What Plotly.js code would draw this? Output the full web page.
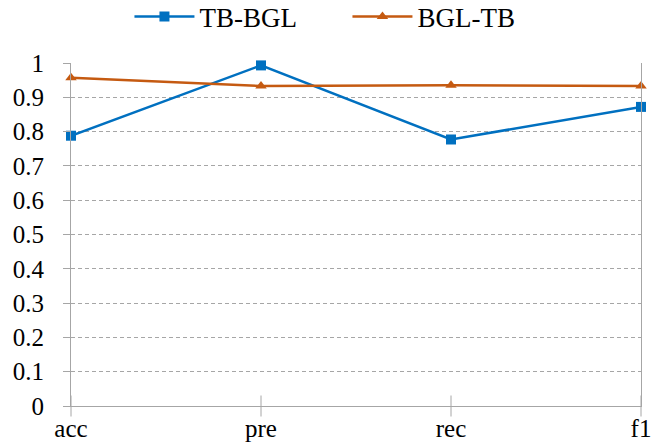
<!DOCTYPE html>
<html>
<head>
<meta charset="utf-8">
<script src="https://cdn.plot.ly/plotly-3.0.1.min.js"></script>
<style>
  html, body { margin: 0; padding: 0; background: #fff; }
  #chart { width: 660px; height: 448px; }
</style>
</head>
<body>
<div id="chart"></div>
<script>
// Metric names along the x axis
const metrics = ['acc', 'pre', 'rec', 'f1'];

// Scores for each transfer direction
const tbToBgl = [0.788, 0.993, 0.777, 0.872];
const bglToTb = [0.957, 0.933, 0.935, 0.933];

// y-axis ticks
const yTicks = [0, 0.1, 0.2, 0.3, 0.4, 0.5, 0.6, 0.7, 0.8, 0.9, 1];
const yTickText = ['0', '0.1', '0.2', '0.3', '0.4', '0.5', '0.6', '0.7', '0.8', '0.9', '1'];

// baseline for the category tick marks that cross the x axis
const axisBase = [0, 0, 0, 0];

const serif = '"Liberation Serif", "Times New Roman", serif';
const axisGray = '#A6A6A6';

const traces = [
  // cross-style category ticks on the x axis
  {
    x: metrics, y: axisBase, type: 'scatter', mode: 'markers',
    marker: { symbol: 'line-ns', size: 15, line: { color: axisGray, width: 1 } },
    cliponaxis: false, showlegend: false, hoverinfo: 'skip'
  },
  {
    x: metrics, y: tbToBgl, name: 'TB-BGL', type: 'scatter', mode: 'lines+markers',
    line: { color: '#0070C0', width: 2.5 },
    marker: { symbol: 'square', size: 10, color: '#0070C0' },
    cliponaxis: false
  },
  {
    x: metrics, y: bglToTb, name: 'BGL-TB', type: 'scatter', mode: 'lines+markers',
    line: { color: '#C55A11', width: 2.5 },
    marker: { symbol: 'triangle-up', size: 10, color: '#C55A11' },
    cliponaxis: false
  }
];

const layout = {
  width: 660, height: 448,
  margin: { l: 71, r: 19, t: 63, b: 42 },
  paper_bgcolor: '#fff', plot_bgcolor: '#fff',
  font: { family: serif, size: 25, color: '#000' },
  showlegend: true,
  legend: {
    orientation: 'h', x: 0.485, xanchor: 'center',
    yref: 'container', y: 0.962, yanchor: 'middle',
    font: { family: serif, size: 27, color: '#000' },
    entrywidth: 143, entrywidthmode: 'pixels',
    itemwidth: 60
  },
  xaxis: {
    type: 'category', range: [0, 3],
    showgrid: false, zeroline: false,
    showline: true, linecolor: axisGray, linewidth: 1,
    ticks: '', ticklabelstandoff: 0,
    tickfont: { family: serif, size: 25, color: '#000' },
    fixedrange: true
  },
  yaxis: {
    range: [0, 1], tickvals: yTicks, ticktext: yTickText,
    showgrid: true, gridcolor: axisGray, gridwidth: 1, griddash: '4px,3px',
    zeroline: false,
    showline: true, mirror: true, linecolor: axisGray, linewidth: 1,
    ticks: 'outside', ticklen: 7, tickcolor: axisGray, tickwidth: 1,
    ticklabelstandoff: 14,
    tickfont: { family: serif, size: 25, color: '#000' },
    fixedrange: true
  }
};

Plotly.newPlot('chart', traces, layout, { displayModeBar: false, staticPlot: true });
</script>
</body>
</html>
